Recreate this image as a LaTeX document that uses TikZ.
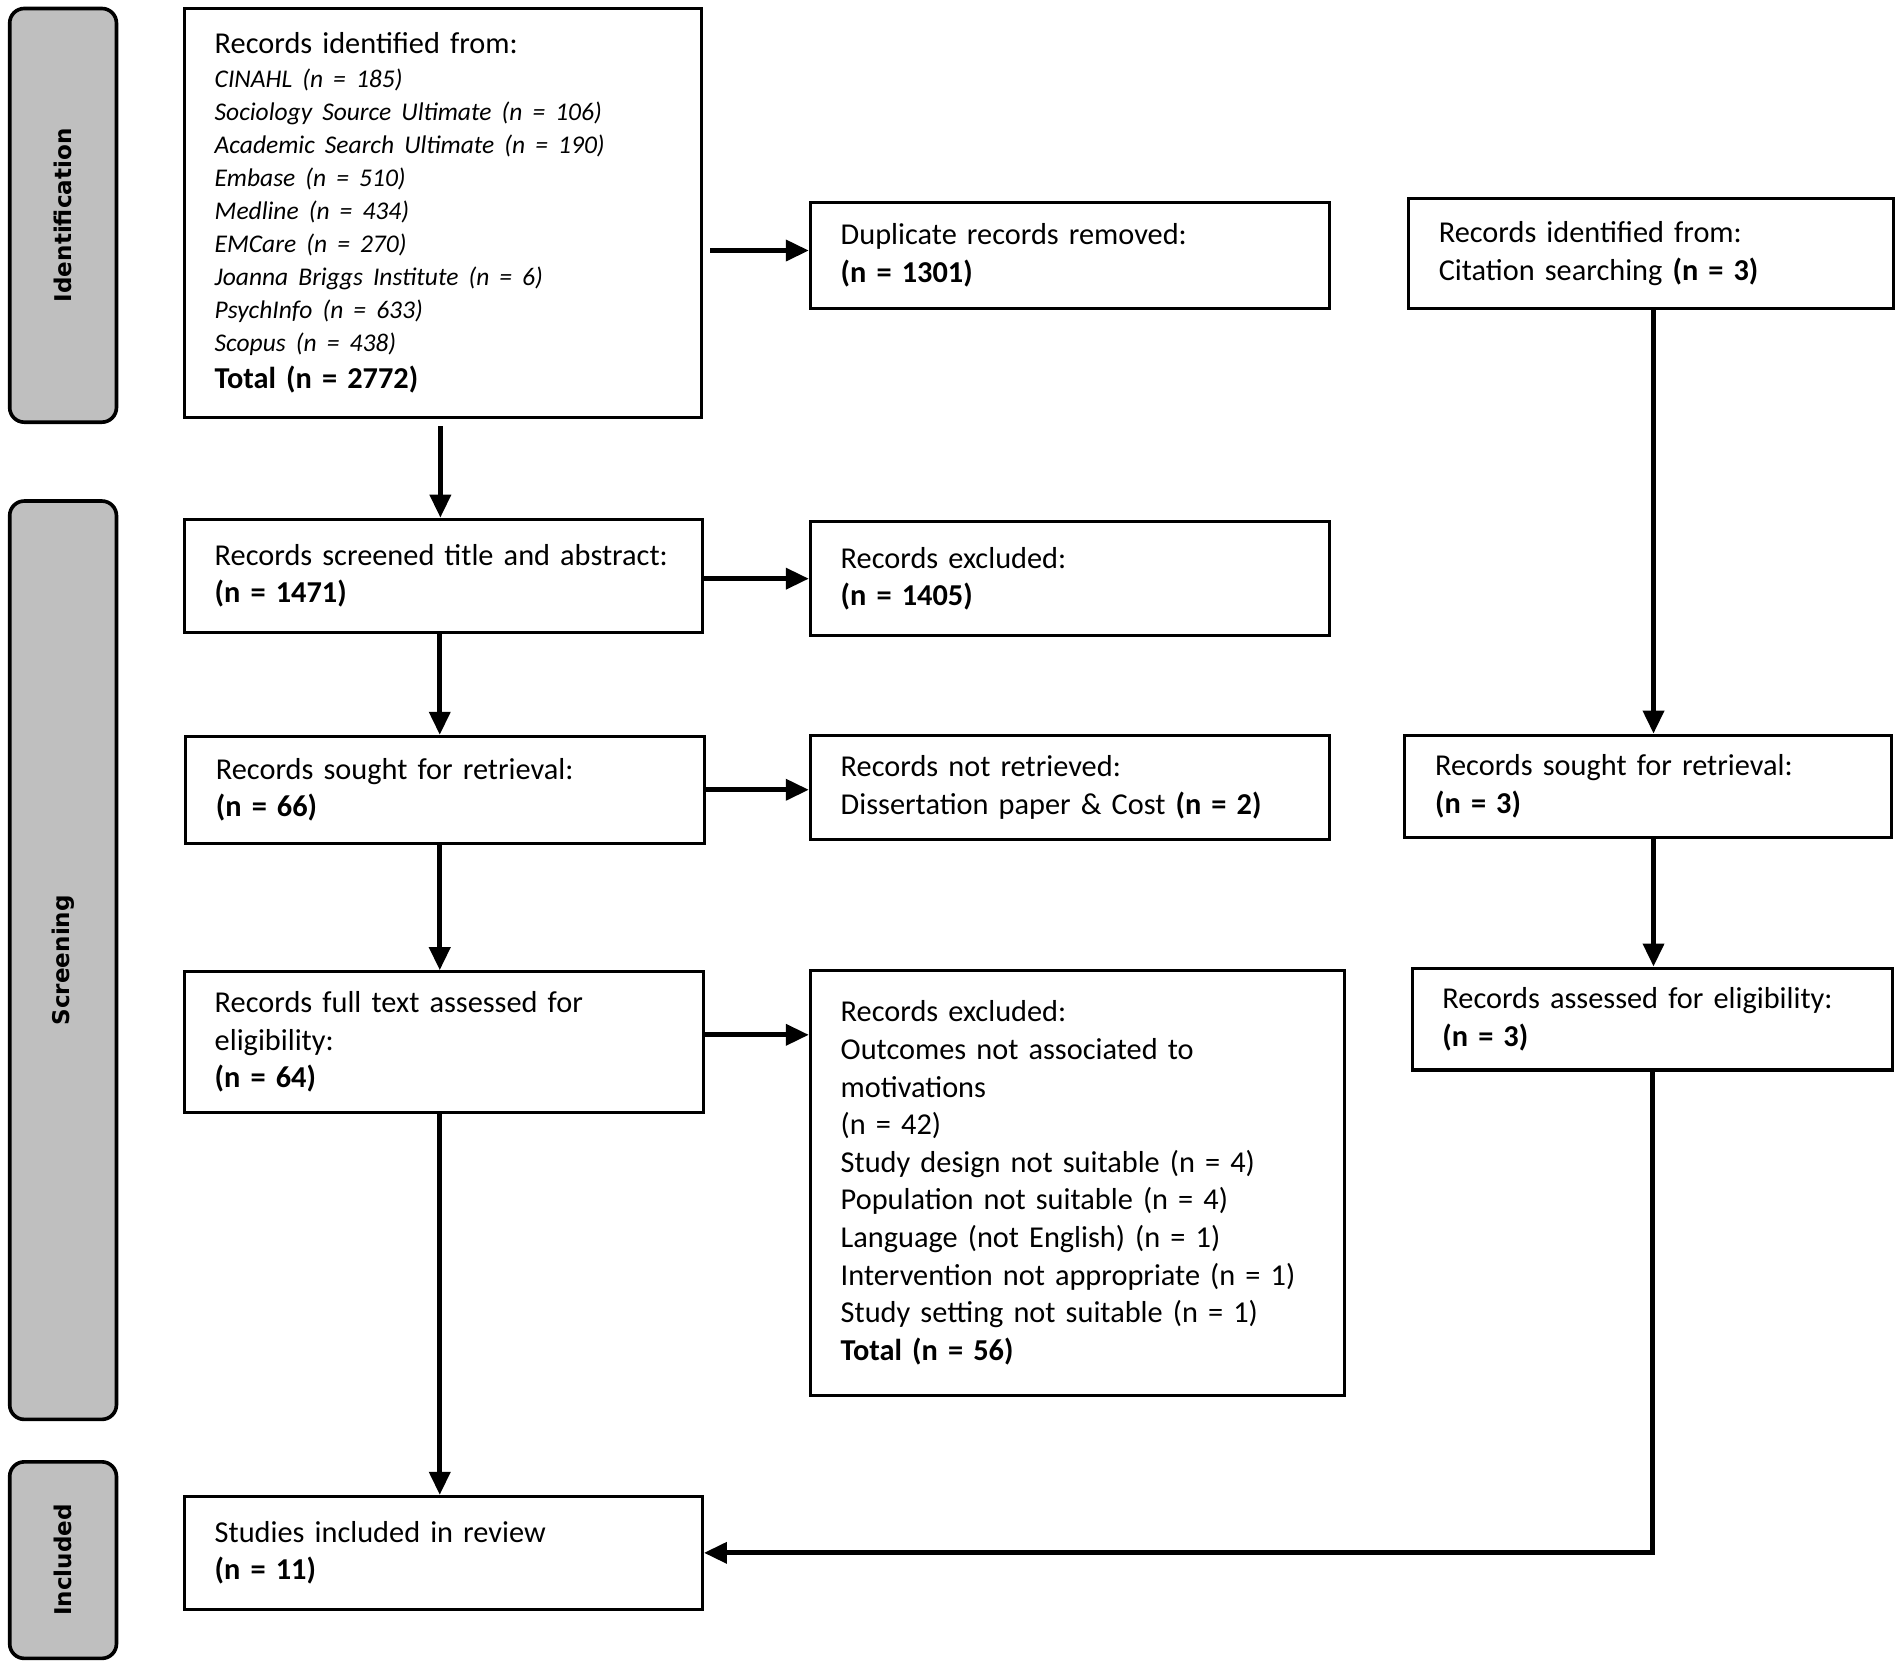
\documentclass[tikz,border=0pt]{standalone}
\usepackage{fontspec}
\setmainfont{Carlito}
\newfontfamily\itfont{Carlito}[WordSpace=0.6]
\newfontfamily\sidefont{DejaVu Sans}
\usetikzlibrary{arrows.meta}
\definecolor{sidegray}{HTML}{BFBFBF}
\setlength{\parindent}{0pt}
\begin{document}
\begin{tikzpicture}[x=1pt,y=-1pt,
  box/.style={draw, line width=2.5pt, inner xsep=25pt, inner ysep=0pt, align=left,
    font=\fontsize{25}{31}\selectfont},
  side/.style={draw, line width=3pt, fill=sidegray, rounded corners=12pt, rotate=90,
    minimum height=88pt, inner sep=0pt, font=\sidefont\bfseries\fontsize{19}{23}\selectfont},
  arr/.style={line width=4pt, -{Triangle[length=19pt,width=17pt]}}]
\useasboundingbox (0,0) rectangle (1567,1374);
\fill[white] (0,0) rectangle (1567,1374);

% phase labels
\node[side, minimum width=341pt] (sid) at (52,177.5) {Identification};
\node[side, minimum width=757pt] (sscr) at (52,791.5) {Screening};
\node[side, minimum width=162pt] (sinc) at (52,1286) {Included};

% boxes
\node[box, minimum width=426pt, minimum height=337pt, text width=376pt] (ident) at (365,175.5)
{Records identified from:\par
\fontsize{21}{27.3}\itfont\itshape
CINAHL (n = 185)\par
Sociology Source Ultimate (n = 106)\par
Academic Search Ultimate (n = 190)\par
Embase (n = 510)\par
Medline (n = 434)\par
EMCare (n = 270)\par
Joanna Briggs Institute (n = 6)\par
PsychInfo (n = 633)\par
Scopus (n = 438)\par
\normalfont\fontsize{25}{30}\selectfont\bfseries Total (n = 2772)\par\vspace{-9pt}};

\node[box, minimum width=428pt, minimum height=87pt, text width=378pt] (dup) at (882,210.5)
{Duplicate records removed:\\ \textbf{(n = 1301)}};

\node[box, minimum width=400pt, minimum height=90pt, text width=350pt] (cit) at (1361,209)
{Records identified from:\\ Citation searching \textbf{(n = 3)}};

\node[box, minimum width=427pt, minimum height=93pt, text width=377pt] (screened) at (365.5,474.5)
{Records screened title and abstract:\\ \textbf{(n = 1471)}};

\node[box, minimum width=428pt, minimum height=94pt, text width=378pt] (excl1) at (882,477)
{Records excluded:\\ \textbf{(n = 1405)}};

\node[box, minimum width=428pt, minimum height=88pt, text width=378pt] (sought) at (367,651)
{Records sought for retrieval:\\ \textbf{(n = 66)}};

\node[box, minimum width=428pt, minimum height=86pt, text width=378pt] (notret) at (882,649)
{Records not retrieved:\\ Dissertation paper \& Cost \textbf{(n = 2)}};

\node[box, minimum width=401pt, minimum height=84pt, text width=351pt] (sought2) at (1358.5,648)
{Records sought for retrieval:\\ \textbf{(n = 3)}};

\node[box, minimum width=428pt, minimum height=116pt, text width=378pt] (fulltext) at (366,859)
{Records full text assessed for\\ eligibility:\\ \textbf{(n = 64)}};

\node[box, minimum width=440pt, minimum height=350pt, text width=390pt] (excl2) at (888,975)
{Records excluded:\\
Outcomes not associated to\\
motivations\\
(n = 42)\\
Study design not suitable (n = 4)\\
Population not suitable (n = 4)\\
Language (not English) (n = 1)\\
Intervention not appropriate (n = 1)\\
Study setting not suitable (n = 1)\\
\textbf{Total (n = 56)}};

\node[box, minimum width=396pt, minimum height=84pt, text width=346pt] (assessed2) at (1362,840)
{Records assessed for eligibility:\\ \textbf{(n = 3)}};

\node[box, minimum width=427pt, minimum height=93pt, text width=377pt] (studies) at (365.5,1280)
{Studies included in review\\ \textbf{(n = 11)}};

% connectors
\draw[arr, shorten <=6pt] ([xshift=-2pt]ident.south) -- ([xshift=-2pt]ident.south |- screened.north);
\draw[arr, shorten <=6pt] ([yshift=4pt]ident.east |- dup.west) -- ([yshift=4pt]dup.west);
\draw[arr] (screened.east |- excl1.west) -- (excl1.west);
\draw[arr] ([xshift=-3pt]screened.south) -- ([xshift=-3pt]screened.south |- sought.north);
\draw[arr] (sought.east) -- (sought.east -| notret.west);
\draw[arr] ([xshift=-3pt]screened.south |- sought.south) -- ([xshift=-3pt]screened.south |- fulltext.north);
\draw[arr] ([yshift=6pt]fulltext.east) -- ([yshift=6pt]fulltext.east -| excl2.west);
\draw[arr] ([xshift=-3pt]screened.south |- fulltext.south) -- ([xshift=-3pt]screened.south |- studies.north);
\draw[arr] ([xshift=2pt]cit.south) -- ([xshift=2pt]cit.south |- sought2.north);
\draw[arr] ([xshift=2pt]cit.south |- sought2.south) -- ([xshift=2pt]cit.south |- assessed2.north);
\draw[arr] (assessed2.south) |- (studies.east);
\end{tikzpicture}
\end{document}
